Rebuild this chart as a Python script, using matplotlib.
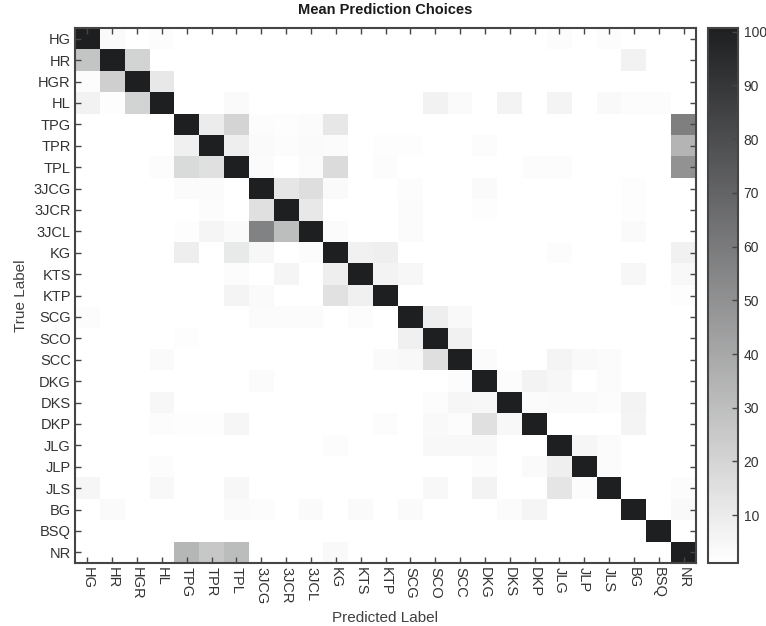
import matplotlib
matplotlib.use("Agg")
import matplotlib.pyplot as plt
import numpy as np
from matplotlib.colors import LinearSegmentedColormap

plt.rcParams['font.family'] = ['Liberation Sans', 'DejaVu Sans']

# class labels (true and predicted share the same list)
labels = ['HG', 'HR', 'HGR', 'HL', 'TPG', 'TPR', 'TPL', '3JCG', '3JCR', '3JCL',
          'KG', 'KTS', 'KTP', 'SCG', 'SCO', 'SCC', 'DKG', 'DKS', 'DKP', 'JLG',
          'JLP', 'JLS', 'BG', 'BSQ', 'NR']

# diagonal (correct) values
diag_vals = [100.4, 100.5, 100.3, 100.4, 100.7, 100.5, 100.4, 100.5, 100.6, 100.4,
             100.5, 100.6, 100.5, 100.4, 100.6, 100.5, 100.5, 100.4, 100.6, 100.5,
             100.6, 100.5, 100.6, 100.7, 100.5]

# background level of the matrix (all other cells)
base_val = 1.1

# off-diagonal confusions: true row, predicted column, value
off_rows = [0, 0, 0, 0,
            1, 1, 1,
            2, 2, 2,
            3, 3, 3, 3, 3, 3, 3, 3, 3, 3, 3,
            4, 4, 4, 4, 4, 4, 4,
            5, 5, 5, 5, 5, 5, 5, 5, 5, 5,
            6, 6, 6, 6, 6, 6, 6, 6, 6, 6,
            7, 7, 7, 7, 7, 7, 7, 7,
            8, 8, 8, 8, 8, 8,
            9, 9, 9, 9, 9, 9, 9, 9,
            10, 10, 10, 10, 10, 10, 10, 10,
            11, 11, 11, 11, 11, 11, 11,
            12, 12, 12, 12, 12,
            13, 13, 13, 13, 13, 13, 13,
            14, 14, 14,
            15, 15, 15, 15, 15, 15, 15, 15,
            16, 16, 16, 16, 16, 16,
            17, 17, 17, 17, 17, 17, 17, 17, 17,
            18, 18, 18, 18, 18, 18, 18, 18, 18, 18,
            19, 19, 19, 19, 19, 19,
            20, 20, 20, 20, 20,
            21, 21, 21, 21, 21, 21, 21, 21,
            22, 22, 22, 22, 22, 22, 22, 22, 22,
            24, 24, 24, 24]
off_cols = [1, 3, 19, 21,
            0, 2, 22,
            0, 1, 3,
            0, 1, 2, 6, 14, 15, 17, 19, 21, 22, 23,
            5, 6, 7, 8, 9, 10, 24,
            4, 6, 7, 8, 9, 10, 12, 13, 16, 24,
            3, 4, 5, 7, 9, 10, 12, 18, 19, 24,
            4, 5, 8, 9, 10, 13, 16, 22,
            5, 7, 9, 13, 16, 22,
            4, 5, 6, 7, 8, 10, 13, 22,
            4, 6, 7, 9, 11, 12, 19, 24,
            6, 8, 10, 12, 13, 22, 24,
            6, 7, 10, 11, 24,
            0, 7, 8, 9, 11, 14, 15,
            4, 13, 15,
            3, 12, 13, 14, 16, 19, 20, 21,
            7, 15, 17, 18, 19, 21,
            3, 14, 15, 16, 18, 19, 20, 21, 22,
            3, 4, 5, 6, 12, 14, 15, 16, 17, 22,
            10, 14, 15, 16, 20, 21,
            3, 16, 18, 19, 21,
            0, 3, 6, 14, 16, 19, 20, 24,
            1, 6, 7, 9, 11, 13, 17, 18, 24,
            4, 5, 6, 10]
off_vals = [3.3, 2.4, 2.4, 2.4,
            27.3, 20.7, 6.9,
            2.4, 22.4, 11.3,
            6.9, 2.0, 20.7, 3.3, 6.9, 3.3, 6.4, 6.0, 3.8, 2.4, 2.4,
            9.6, 19.8, 2.4, 2.0, 2.9, 11.8, 57.6,
            7.8, 8.7, 3.3, 2.4, 3.3, 2.9, 2.0, 2.0, 2.4, 34.5,
            2.4, 17.6, 14.9, 2.9, 2.9, 16.7, 2.4, 2.4, 2.4, 49.1,
            2.9, 2.9, 12.2, 15.8, 3.3, 2.4, 3.3, 2.0,
            2.4, 14.9, 11.3, 2.9, 2.0, 2.0,
            2.0, 5.5, 3.3, 56.7, 30.4, 2.9, 2.9, 3.3,
            8.7, 10.9, 4.7, 2.4, 7.3, 8.2, 2.4, 7.3,
            2.4, 5.5, 8.7, 6.4, 4.7, 4.7, 4.2,
            6.0, 3.3, 14.4, 7.8, 2.0,
            2.4, 2.9, 2.9, 2.9, 2.4, 8.7, 3.8,
            2.0, 7.8, 7.3,
            3.3, 3.3, 4.2, 15.3, 2.9, 6.0, 3.8, 2.9,
            2.9, 2.4, 2.4, 6.4, 4.7, 2.9,
            4.7, 2.4, 5.1, 4.7, 2.9, 3.3, 3.3, 2.4, 6.4,
            2.4, 2.0, 2.0, 5.1, 2.4, 3.8, 2.4, 14.9, 4.2, 6.0,
            2.4, 4.2, 4.2, 4.2, 5.1, 2.9,
            2.4, 2.4, 3.3, 8.2, 2.9,
            5.1, 4.2, 4.7, 4.2, 6.4, 12.7, 2.4, 2.4,
            3.3, 3.3, 2.4, 3.3, 3.3, 3.3, 2.9, 5.5, 3.8,
            33.6, 26.0, 30.9, 3.8]

n = len(labels)
mat = np.full((n, n), base_val)
mat[np.arange(n), np.arange(n)] = diag_vals
mat[off_rows, off_cols] = off_vals

cmap = LinearSegmentedColormap.from_list('wk', ['#ffffff', '#1e1f21'])

W, H = 766, 626
fig = plt.figure(figsize=(W / 100, H / 100), dpi=100)
ax = fig.add_axes([75 / W, 63 / H, 621 / W, 535 / H])
im = ax.imshow(mat, cmap=cmap, aspect='auto', interpolation='nearest',
               vmin=mat.min(), vmax=mat.max())

spine_c = '#454545'
text_c = '#333333'
ax.set_xticks(np.arange(n))
ax.set_yticks(np.arange(n))
ax.set_xticklabels(labels, rotation=-90, fontsize=10.5, color=text_c)
ax.set_yticklabels(labels, fontsize=10.5, color=text_c)
ax.tick_params(direction='in', top=True, right=True, length=4, width=1,
               color=spine_c, pad=3)
for s in ax.spines.values():
    s.set_color(spine_c)
    s.set_linewidth(1.5)

ax.set_xlabel('Predicted Label', fontsize=11, color='#404040', labelpad=5)
ax.set_ylabel('True Label', fontsize=11, color='#404040', labelpad=4)
ax.set_title('Mean Prediction Choices', fontsize=10.5, fontweight='bold',
             color='#1a1a1a', pad=10)

cax = fig.add_axes([708 / W, 63 / H, 30 / W, 535 / H])
cb = fig.colorbar(im, cax=cax, ticks=np.arange(10, 101, 10))
cb.outline.set_edgecolor(spine_c)
cb.outline.set_linewidth(1.5)
cax.tick_params(direction='in', length=4, width=1, color=spine_c,
                labelsize=10, labelcolor=text_c, pad=4)

fig.savefig('out.png', dpi=100)
